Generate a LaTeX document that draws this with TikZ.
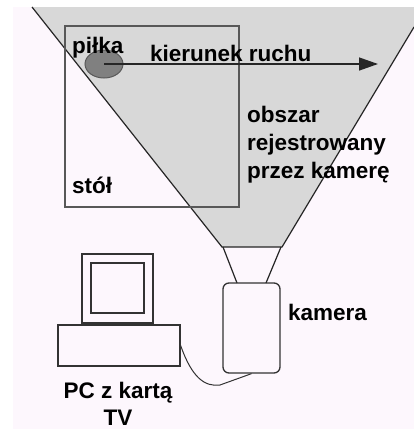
\documentclass[tikz,border=0pt]{standalone}
\usepackage{fontspec}
\setmainfont{Liberation Sans}
\usetikzlibrary{shapes.geometric,arrows.meta}
\definecolor{paper}{RGB}{253,247,253}
\definecolor{viewgray}{RGB}{216,216,216}
\definecolor{tablegray}{RGB}{88,88,88}
\definecolor{ballgray}{RGB}{128,128,128}
\begin{document}
\begin{tikzpicture}[
    x=1pt, y=-1pt,
    field/.style={fill=viewgray},
    edge/.style={draw=black!85, line width=1.2pt},
    table/.style={draw=tablegray, line width=1.5pt},
    ball/.style={ellipse, fill=ballgray, draw=black!65, line width=1pt,
                 minimum width=38pt, minimum height=28pt, inner sep=0pt},
    move/.style={-{Triangle[length=19pt, width=13pt]}, line width=1.4pt, black!85},
    box/.style={draw=black!80, line width=1.3pt, inner sep=0pt},
    cam/.style={box, rounded corners=6pt, minimum width=57pt, minimum height=90pt},
    cable/.style={draw=black!80, line width=1pt},
    txt/.style={font=\bfseries\fontsize{22.5}{28}\selectfont, inner sep=0pt},
]
\useasboundingbox (0,0) rectangle (414,429);
\fill[paper] (13,7) rectangle (414,429);
% field of view
\fill[field] (32,7) -- (414,7) -- (414,27) -- (282,247) -- (222,247) -- cycle;
\draw[edge] (32,7) -- (222,247) -- (282,247) -- (414,27);
% lens
\draw[edge] (223,247) -- (237,283);
\draw[edge] (281,247) -- (266,283);
% table and ball
\draw[table] (65,26) rectangle (239,207);
\node[ball] (pilka) at (104,64) {};
\coordinate (tip) at (378,64);
\draw[move] (pilka.center) -- (tip);
% camera and computer
\node[cam] (kamera) at (251.5,328) {};
\node[box, minimum width=71pt, minimum height=69pt] (monitor) at (117.5,288.5) {};
\node[box, minimum width=53pt, minimum height=50pt] (ekran) at (117.5,288) {};
\node[box, minimum width=122pt, minimum height=41pt] (pc) at (119,345.5) {};
\draw[box] (99,323) -- (99,325) (137,323) -- (137,325);
\draw[cable] (pc.east) .. controls (192,378) and (205,387) .. (220,385) -- (kamera.south);
% labels
\node[txt, anchor=base west] (lpilka) at (72,53) {piłka};
\node[txt, anchor=base west] (lruch) at (150,61) {kierunek ruchu};
\node[txt, anchor=north west, align=left] (lobszar) at (247,106) {obszar\\rejestrowany\\przez kamerę};
\node[txt, anchor=base west] (lstol) at (72,193) {stół};
\node[txt, anchor=base west] (lkamera) at (288,320) {kamera};
\node[txt, anchor=north, align=center, font=\bfseries\fontsize{22.5}{27}\selectfont] (lpc) at (118,382) {PC z kartą\\TV};
\end{tikzpicture}
\end{document}
